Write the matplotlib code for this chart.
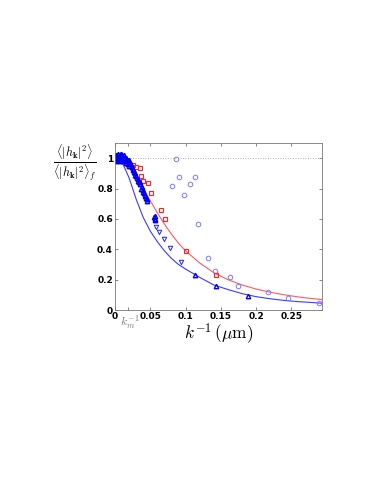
import numpy as np
import matplotlib
matplotlib.use("Agg")
import matplotlib.pyplot as plt

plt.rcParams['mathtext.fontset'] = 'cm'

# curves
curve_x = [0, 0.005, 0.01, 0.02, 0.03, 0.04, 0.05, 0.06, 0.07, 0.08, 0.09, 0.10,
           0.12, 0.14, 0.16, 0.18, 0.20, 0.22, 0.24, 0.26, 0.28, 0.295]
blue_curve = [1.0, 0.995, 0.975, 0.87, 0.73, 0.61, 0.52, 0.45, 0.39, 0.34, 0.30, 0.27,
              0.215, 0.165, 0.135, 0.108, 0.088, 0.074, 0.063, 0.055, 0.049, 0.044]
red_curve = [1.0, 0.996, 0.985, 0.94, 0.877, 0.80, 0.72, 0.64, 0.566, 0.50, 0.44, 0.39,
             0.31, 0.246, 0.20, 0.165, 0.138, 0.117, 0.10, 0.086, 0.075, 0.068]

# light blue circles
circ_x = [0.0867, 0.0906, 0.0815, 0.0977, 0.1067, 0.1133, 0.118, 0.132, 0.1416,
          0.163, 0.175, 0.217, 0.2455, 0.289]
circ_y = [0.996, 0.877, 0.82, 0.756, 0.831, 0.877, 0.567, 0.34, 0.257,
          0.217, 0.16, 0.12, 0.08, 0.046]

# red squares
sq_x = [0.0255, 0.030, 0.035, 0.037, 0.0397, 0.047, 0.0505, 0.0647, 0.0713, 0.101, 0.143]
sq_y = [0.955, 0.94, 0.934, 0.88, 0.848, 0.837, 0.774, 0.657, 0.60, 0.391, 0.231]

# blue up-triangles (dense cluster near k^-1 -> 0)
tri_x = [0.001, 0.002, 0.003, 0.004, 0.005, 0.006, 0.007, 0.008, 0.009, 0.010,
         0.002, 0.004, 0.006, 0.008, 0.010, 0.012, 0.014, 0.003, 0.007, 0.011,
         0.012, 0.013, 0.014, 0.015, 0.016, 0.017, 0.018, 0.019, 0.020, 0.021,
         0.016, 0.018, 0.020, 0.022, 0.024, 0.025, 0.026, 0.027, 0.028, 0.029,
         0.030, 0.031, 0.032, 0.033, 0.034, 0.035, 0.036, 0.037, 0.038, 0.039,
         0.040, 0.041, 0.042, 0.043, 0.044, 0.045, 0.046,
         0.055, 0.056, 0.057, 0.056, 0.113, 0.143, 0.189]
tri_y = [1.0, 1.02, 0.99, 1.03, 1.01, 0.99, 1.02, 1.0, 1.03, 0.99,
         0.98, 0.99, 1.01, 1.03, 1.02, 1.01, 1.0, 1.02, 0.98, 1.0,
         0.98, 1.02, 0.99, 1.0, 0.97, 0.99, 0.96, 0.98, 0.95, 0.97,
         1.0, 0.98, 0.99, 0.96, 0.94, 0.92, 0.93, 0.91, 0.90, 0.89,
         0.88, 0.87, 0.86, 0.85, 0.84, 0.83, 0.84, 0.80, 0.81, 0.79,
         0.78, 0.77, 0.76, 0.75, 0.74, 0.73, 0.72,
         0.61, 0.62, 0.60, 0.59, 0.231, 0.16, 0.095]

# blue down-triangles
dtri_x = [0.058, 0.062, 0.070, 0.078, 0.094]
dtri_y = [0.545, 0.515, 0.47, 0.408, 0.315]

xtick_pos = [0, 0.019, 0.05, 0.1, 0.15, 0.2, 0.25]
xtick_lab = ['0', '', '0.05', '0.1', '0.15', '0.2', '0.25']
ytick_pos = [0, 0.2, 0.4, 0.6, 0.8, 1]
ytick_lab = ['0', '0.2', '0.4', '0.6', '0.8', '1']

fig = plt.figure(figsize=(3.74, 4.84), dpi=100)
ax = fig.add_axes([0.3075, 0.3595, 0.5545, 0.345])

ax.axhline(1, color='#999999', lw=0.6, ls=(0, (1, 2)))
ax.plot(curve_x, red_curve, color='#ff5a5a', lw=0.8)
ax.plot(curve_x, blue_curve, color='#3a3aff', lw=0.8)
ax.plot(circ_x, circ_y, 'o', mfc='none', mec='#7a7aff', mew=0.7, ms=3.3)
ax.plot(sq_x, sq_y, 's', mfc='none', mec='#ff2020', mew=0.8, ms=2.8)
ax.plot(tri_x, tri_y, '^', mfc='none', mec='#0000ee', mew=1.0, ms=3.2)
ax.plot(dtri_x, dtri_y, 'v', mfc='none', mec='#2020ff', mew=0.7, ms=3.2)

ax.set_xlim(0, 0.294)
ax.set_ylim(0, 1.1)
ax.set_xticks(xtick_pos)
ax.set_xticklabels(xtick_lab, fontsize=6.5, fontweight='bold')
ax.set_yticks(ytick_pos)
ax.set_yticklabels(ytick_lab, fontsize=6.5, fontweight='bold')
ax.tick_params(direction='in', length=2.5, width=0.5, pad=1.5,
               top=True, right=True, colors='#555555', labelcolor='black')
for s in ax.spines.values():
    s.set_color('#777777')
    s.set_linewidth(0.6)

ax.text(0.021, -0.02, r'$k_m^{-1}$', color='#777777', fontsize=8.5,
        ha='center', va='top')

fig.text(0.2, 1 - 163 / 484,
         r'$\frac{\langle|h_{\mathbf{k}}|^2\rangle}{\langle|h_{\mathbf{k}}|^2\rangle_f}$',
         fontsize=12.5, ha='center', va='center')
fig.text(0.584, 1 - 334 / 484, r'$k^{-1}\,(\mu\mathrm{m})$',
         fontsize=12.5, ha='center', va='center')

fig.savefig('out.png', dpi=100)
